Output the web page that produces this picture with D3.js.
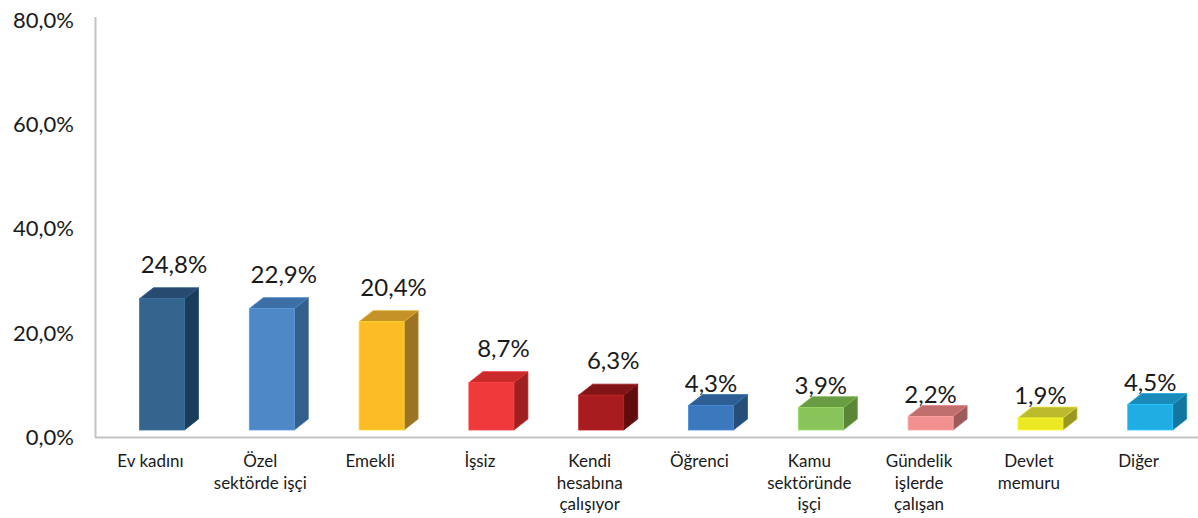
<!DOCTYPE html>
<html>
<head>
<meta charset="utf-8">
<script src="https://cdn.jsdelivr.net/npm/d3@7"></script>
<style>
  body { margin: 0; background: #fff; }
  text { font-family: Lato, "Open Sans", sans-serif; fill: #1a1a1a; }
</style>
</head>
<body>
<div id="chart"></div>
<script>
const categories = [
  ['Ev kadını'],
  ['Özel', 'sektörde işçi'],
  ['Emekli'],
  ['İşsiz'],
  ['Kendi', 'hesabına', 'çalışıyor'],
  ['Öğrenci'],
  ['Kamu', 'sektöründe', 'işçi'],
  ['Gündelik', 'işlerde', 'çalışan'],
  ['Devlet', 'memuru'],
  ['Diğer']
];
const values = [24.8, 22.9, 20.4, 8.7, 6.3, 4.3, 3.9, 2.2, 1.9, 4.5];
const yTicks = [0, 20, 40, 60, 80];

// front / top / side shade per bar
const frontColors = ['#33658f', '#4f88c6', '#fbbc25', '#f0393a', '#a81c20', '#3b78bd', '#88c45a', '#f28f8f', '#ece823', '#1fade4'];
const topColors = ['#264a70', '#3b6fa6', '#c49226', '#c92b2b', '#801416', '#2d5e94', '#6a9c44', '#c06e6e', '#bcbb2e', '#1a8ab8'];
const sideColors = ['#1a3d5c', '#335f8a', '#9a7424', '#a01f20', '#600c0e', '#254e7a', '#5a8638', '#9c5a5a', '#9a9820', '#14769e'];

const w = 1198;
const h = 518;
const depthX = 14;
const depthY = 11;

const svg = d3.select('#chart').append('svg').attr('width', w).attr('height', h);

const ids = categories.map((d, i) => i);

const xScale = d3.scaleBand()
  .domain(ids)
  .range([95.6, 1193.6]);

const yScale = d3.scaleLinear()
  .domain([0, 80])
  .range([437, 20]);

// axes
svg.append('line')
  .attr('x1', 95.5).attr('x2', 95.5)
  .attr('y1', 17).attr('y2', 437.5)
  .attr('stroke', '#c4c4c4').attr('stroke-width', 2);
svg.append('line')
  .attr('x1', 95).attr('x2', w)
  .attr('y1', 437.5).attr('y2', 437.5)
  .attr('stroke', '#c4c4c4').attr('stroke-width', 2);

svg.selectAll('.ytick')
  .data(yTicks)
  .enter()
  .append('text')
  .attr('class', 'ytick')
  .attr('x', 74)
  .attr('y', d => yScale(d))
  .attr('dy', '0.36em')
  .attr('text-anchor', 'end')
  .style('font-size', '22px')
  .text(d => d.toFixed(1).replace('.', ',') + '%');

// bars
const bottom = yScale(0) - 7;
const frontW = 45;
const bars = svg.selectAll('.bar')
  .data(values)
  .enter()
  .append('g')
  .attr('class', 'bar');

const frontLeft = i => xScale(i) + xScale.bandwidth() / 2 - 11;
const frontTop = v => yScale(v) - 9;

bars.append('path')
  .attr('d', (d, i) => {
    const x0 = frontLeft(i) + frontW, t = frontTop(d);
    return `M${x0},${t}L${x0 + depthX},${t - depthY}L${x0 + depthX},${bottom - depthY}L${x0},${bottom}Z`;
  })
  .attr('fill', (d, i) => sideColors[i])
  .attr('stroke', (d, i) => d3.color(sideColors[i]).brighter(0.5))
  .attr('stroke-width', 0.8);

bars.append('path')
  .attr('d', (d, i) => {
    const x0 = frontLeft(i), t = frontTop(d);
    return `M${x0},${t}L${x0 + depthX},${t - depthY}L${x0 + frontW + depthX},${t - depthY}L${x0 + frontW},${t}Z`;
  })
  .attr('fill', (d, i) => topColors[i])
  .attr('stroke', (d, i) => d3.color(topColors[i]).brighter(0.5))
  .attr('stroke-width', 0.8);

bars.append('rect')
  .attr('x', (d, i) => frontLeft(i))
  .attr('y', d => frontTop(d))
  .attr('width', frontW)
  .attr('height', d => bottom - frontTop(d))
  .attr('fill', (d, i) => frontColors[i])
  .attr('stroke', (d, i) => d3.color(frontColors[i]).brighter(0.4))
  .attr('stroke-width', 0.8);

// value labels
bars.append('text')
  .attr('x', (d, i) => frontLeft(i) + frontW / 2 + (d > 5 ? 12 : 0))
  .attr('y', d => frontTop(d) - depthY - (d > 5 ? 15 : 3))
  .attr('text-anchor', 'middle')
  .style('font-size', '24px')
  .text(d => d.toFixed(1).replace('.', ',') + '%');

// category labels
const catLabels = svg.selectAll('.cat')
  .data(categories)
  .enter()
  .append('text')
  .attr('class', 'cat')
  .attr('text-anchor', 'middle')
  .attr('y', 467)
  .style('font-size', '17px');

catLabels.selectAll('tspan')
  .data((d, i) => d.map(line => ({ line, i })))
  .enter()
  .append('tspan')
  .attr('x', d => xScale(d.i) + xScale.bandwidth() / 2)
  .attr('dy', (d, j) => j === 0 ? 0 : 21.5)
  .text(d => d.line);
</script>
</body>
</html>
